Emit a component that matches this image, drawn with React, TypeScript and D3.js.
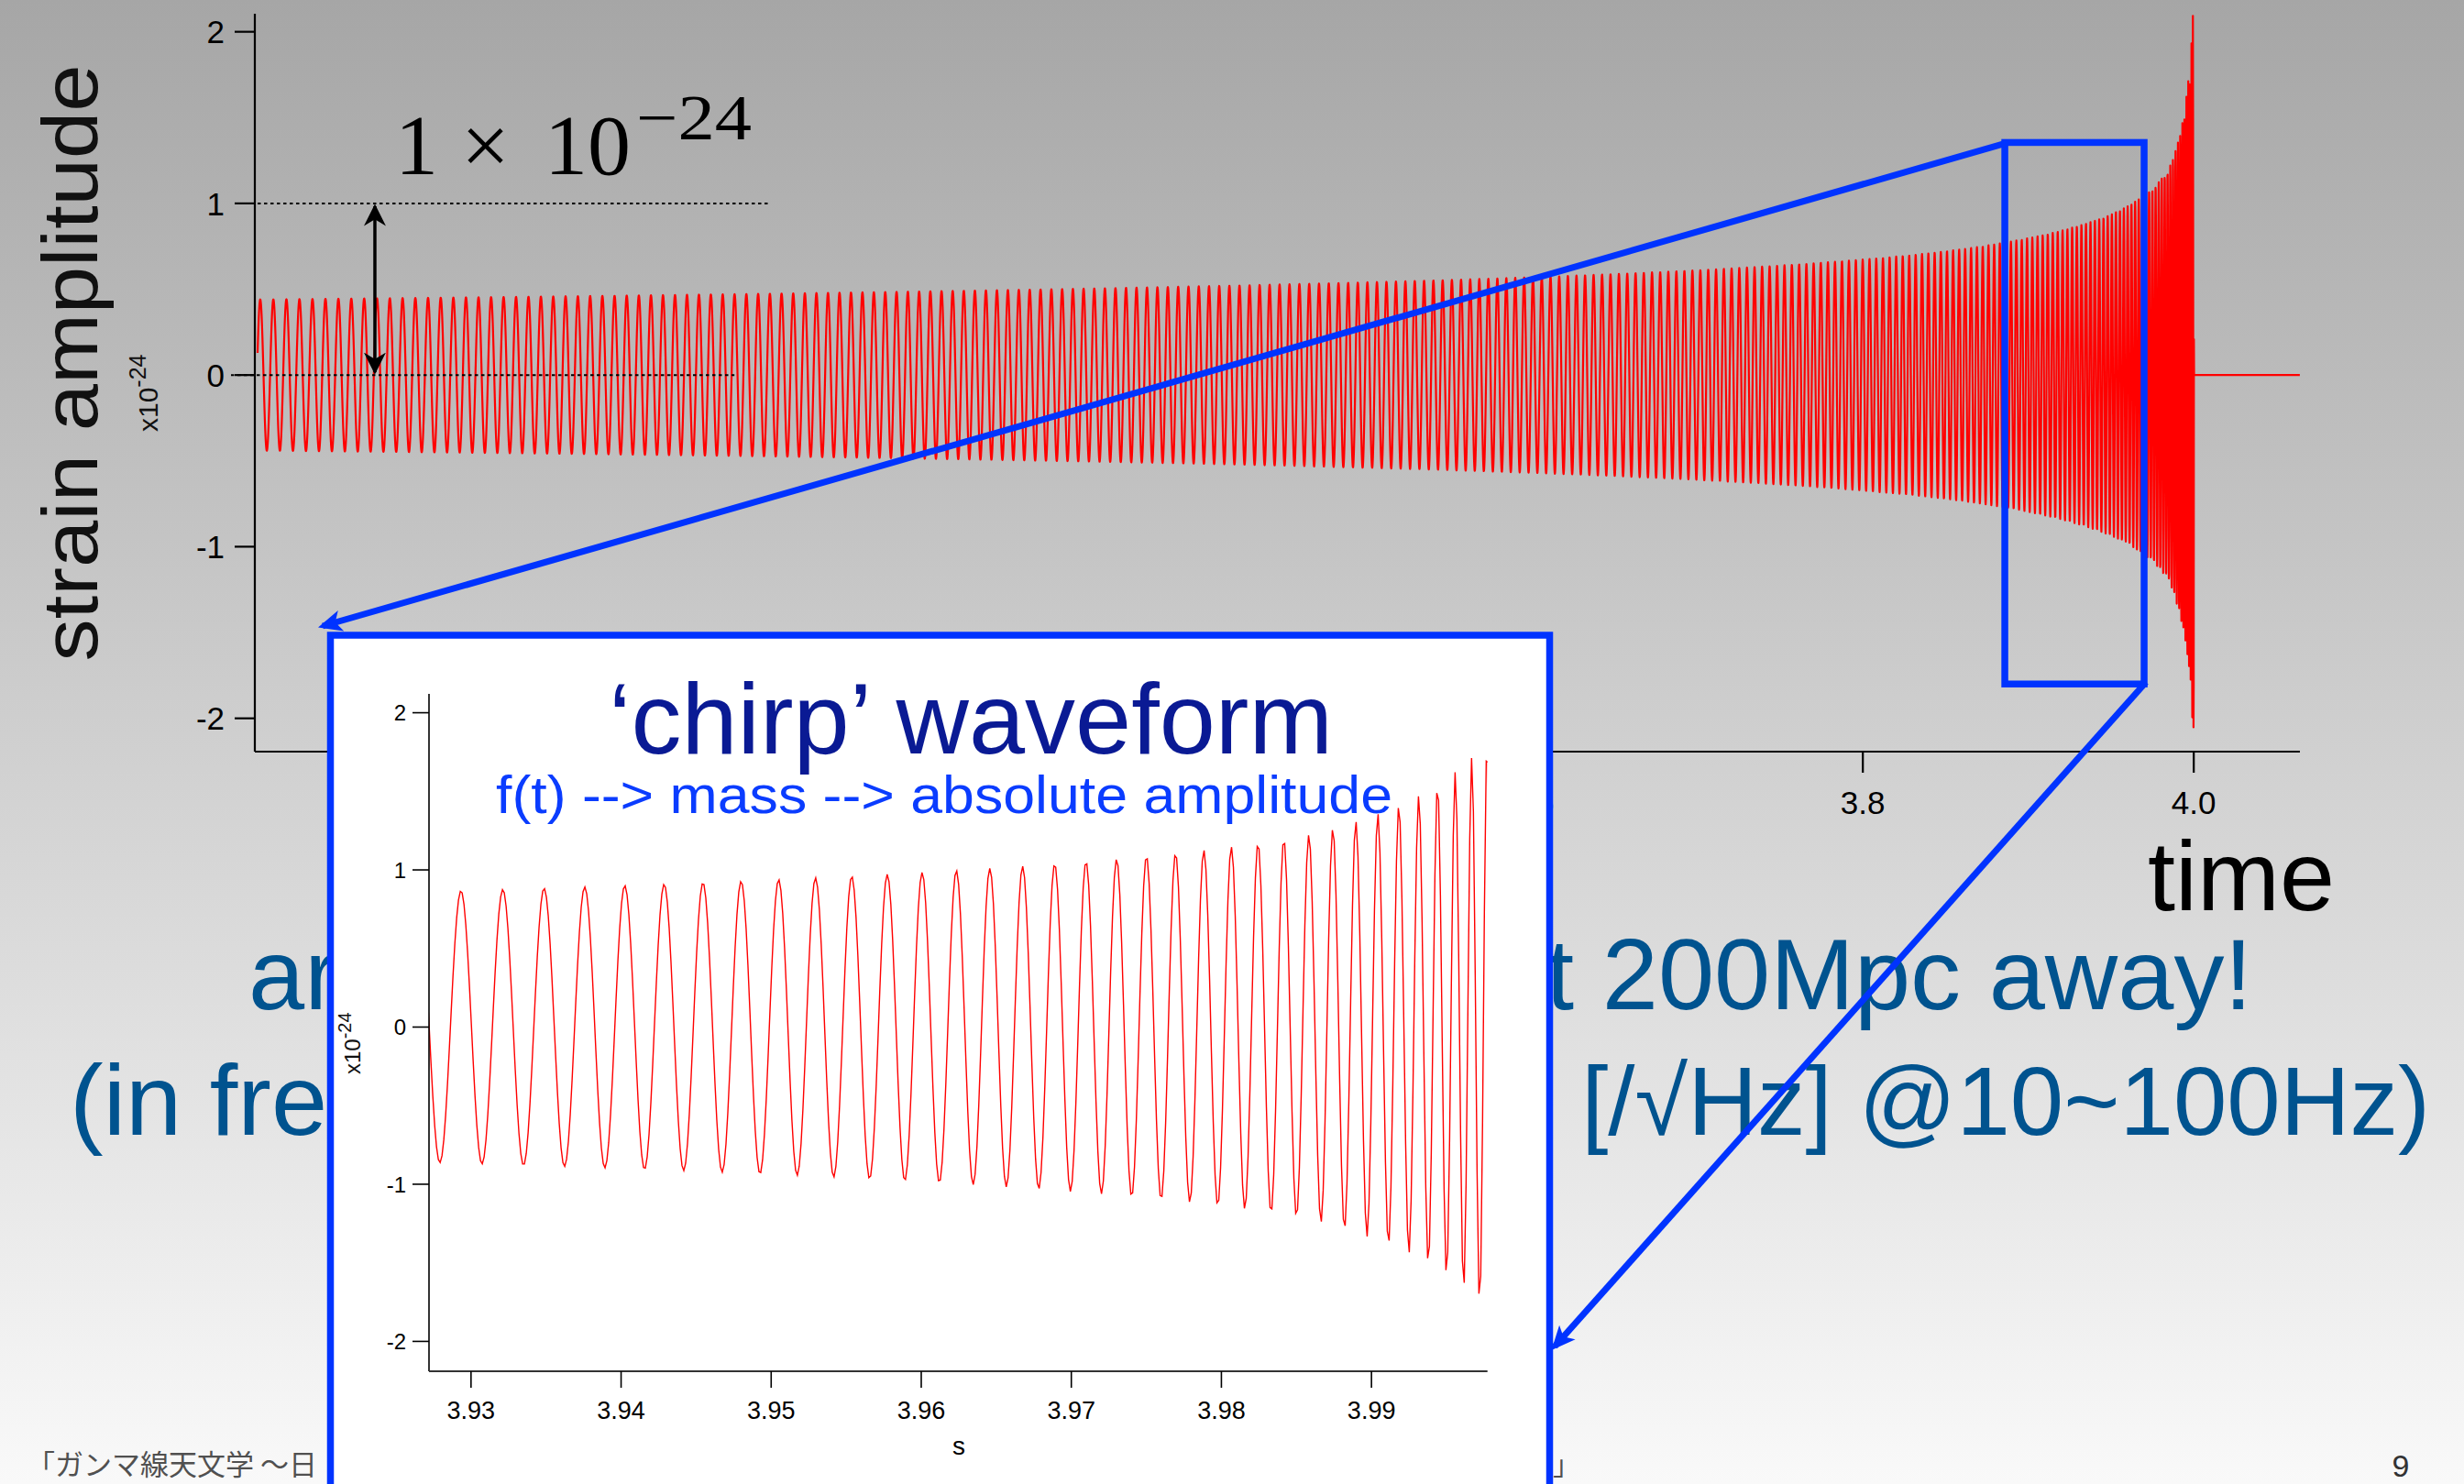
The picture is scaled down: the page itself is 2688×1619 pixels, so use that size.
import React from "react";
import * as d3 from "d3";

const W = 2688;
const H = 1619;

// ---- values ----
// chirp: instantaneous frequency (Hz) and envelope amplitude (x1e-24) at read times (s)
const anchorTimes = [2.83, 3.84, 3.9295, 3.9852, 3.9973, 4.0];
const anchorFreqs = [126, 263, 356.5, 604, 989, 1350];
const anchorAmps = [0.44, 0.71, 0.868, 1.21, 1.78, 2.25];
const tCoalesce = 4.0025;
const tStart = 2.8298;
const tMergerEnd = 4.0002;
const tTail = 4.0641;
const sampleRate = 8192;
const insetZeroCrossing = 3.9272;

const mainXDomain = [2.82814, 4.06416];
const mainYDomain = [-2.194, 2.105];
const mainXTicks = [3.0, 3.2, 3.4, 3.6, 3.8, 4.0];
const mainYTicks = [-2, -1, 0, 1, 2];

const insetXDomain = [3.9272, 3.99773];
const insetYDomain = [-2.19, 2.12];
const insetXTicks = [3.93, 3.94, 3.95, 3.96, 3.97, 3.98, 3.99];
const insetYTicks = [-2, -1, 0, 1, 2];

// annotation (data coords)
const arrowTime = 2.9007;
const dashOneEnd = 3.14;
const dashZeroEnd = 3.118;
const zoomBox = { t0: 3.8858, t1: 3.9700, v0: -1.80, v1: 1.355 };

type Sample = { t: number; v: number };

function buildWaveform(): Sample[] {
  const logTau = anchorTimes.map((t) => Math.log(tCoalesce - t));
  const fScale = d3.scaleLinear().domain(logTau).range(anchorFreqs.map(Math.log));
  const aScale = d3.scaleLinear().domain(logTau).range(anchorAmps.map(Math.log));
  const dt = 1 / sampleRate;
  const ts: number[] = [];
  const phases: number[] = [];
  const amps: number[] = [];
  let phase = 0;
  for (let i = 0; ; i++) {
    const t = tStart + i * dt;
    if (t > tMergerEnd) break;
    const lt = Math.log(tCoalesce - t);
    const f = Math.exp(fScale(lt));
    ts.push(t);
    phases.push(phase);
    amps.push(Math.exp(aScale(lt)));
    phase += 2 * Math.PI * f * dt;
  }
  // align phase so the inset begins on a descending zero crossing
  const k = d3.bisectLeft(ts, insetZeroCrossing);
  const off = Math.PI - phases[k];
  return ts.map((t, i) => ({ t, v: amps[i] * Math.sin(phases[i] + off) }));
}

const fmt = (d: number) => String(d);

export default function App() {
  const wave = React.useMemo(buildWaveform, []);

  const mx = d3.scaleLinear().domain(mainXDomain).range([278, 2509]);
  const my = d3.scaleLinear().domain(mainYDomain).range([820, 15]);
  const ix = d3.scaleLinear().domain(insetXDomain).range([468, 1622.7]);
  const iy = d3.scaleLinear().domain(insetYDomain).range([1496, 757]);

  const insetLeft = 360.5;
  const insetRight = 1690.5;

  const mainData: Sample[] = [...wave, { t: tMergerEnd, v: 0 }, { t: tTail, v: 0 }];
  const mainPath = d3.line<Sample>().x((d) => mx(d.t)).y((d) => my(d.v))(mainData) || "";
  const insetData = wave.filter((d) => d.t >= insetXDomain[0] - 0.0003 && d.t <= insetXDomain[1] + 0.0003);
  const insetPath = d3.line<Sample>().x((d) => ix(d.t)).y((d) => iy(d.v))(insetData) || "";

  const blue = "#0033ff";
  const sans = "'Liberation Sans', Helvetica, Arial, sans-serif";
  const textBlue = "#00538f";

  const zbX0 = mx(zoomBox.t0), zbX1 = mx(zoomBox.t1);
  const zbY0 = my(zoomBox.v1), zbY1 = my(zoomBox.v0);

  // tick labels entirely hidden behind the inset are not drawn
  const visibleMainXLabels = mainXTicks.filter((d) => mx(d) + 30 > insetRight);

  return (
    <svg width={W} height={H} viewBox={`0 0 ${W} ${H}`}
      style={{ position: "absolute", left: 0, top: 0, display: "block" }}
      fontFamily={sans}>
      <defs>
        <linearGradient id="bg" x1="0" y1="0" x2="0" y2="1">
          <stop offset="0" stopColor="#a6a6a6" />
          <stop offset="1" stopColor="#f9f9f9" />
        </linearGradient>
        <marker id="blackHead" viewBox="0 0 10 10" refX="9" refY="5" markerUnits="userSpaceOnUse"
          markerWidth="24" markerHeight="24" orient="auto-start-reverse">
          <path d="M0,0 L10,5 L0,10 L3,5 z" fill="#000" />
        </marker>
        <marker id="blueHead" viewBox="0 0 10 10" refX="8" refY="5" markerUnits="userSpaceOnUse"
          markerWidth="26" markerHeight="26" orient="auto-start-reverse">
          <path d="M0,0.5 L10,5 L0,9.5 L2.5,5 z" fill={blue} />
        </marker>
        <clipPath id="insetClip">
          <rect x={ix.range()[0]} y={700} width={ix.range()[1] - ix.range()[0]} height={iy.range()[0] - 700} />
        </clipPath>
        <clipPath id="leftOfInset">
          <rect x={0} y={0} width={insetLeft} height={H} />
        </clipPath>
      </defs>

      <rect x={0} y={0} width={W} height={H} fill="url(#bg)" />

      {/* bottom blue text (partly hidden by the inset) */}
      <g fill={textBlue} fontSize={110}>
        <g clipPath="url(#leftOfInset)">
          <text x={271} y={1101}>ar</text>
          <text x={76} y={1238}>(in freq</text>
        </g>
        <text x={2457} y={1101} textAnchor="end">at 200Mpc away!</text>
        <text x={2651} y={1238} textAnchor="end" fontSize={105}>~10⁻²³ [/√Hz] @10~100Hz)</text>
      </g>

      {/* footer left (partly hidden behind the inset) */}
      <text x={29} y={1609} fontSize={31} fill="#505050" clipPath="url(#leftOfInset)"
        fontFamily="'Noto Sans CJK JP', sans-serif">「ガンマ線天文学 〜日</text>

      {/* main axes */}
      <g stroke="#000" strokeWidth={2.2} fill="none">
        <line x1={mx.range()[0]} x2={mx.range()[0]} y1={my.range()[1]} y2={my.range()[0]} />
        <line x1={mx.range()[0]} x2={mx.range()[1]} y1={my.range()[0]} y2={my.range()[0]} />
        {mainYTicks.map((d) => (
          <line key={"myt" + d} x1={mx.range()[0] - 22} x2={mx.range()[0]} y1={my(d)} y2={my(d)} />
        ))}
        {mainXTicks.map((d) => (
          <line key={"mxt" + d} x1={mx(d)} x2={mx(d)} y1={my.range()[0]} y2={my.range()[0] + 23} />
        ))}
      </g>
      <g fontSize={35} fill="#000">
        {mainYTicks.map((d) => (
          <text key={"myl" + d} x={245} y={my(d)} dy="0.36em" textAnchor="end">{fmt(d)}</text>
        ))}
        {visibleMainXLabels.map((d) => (
          <text key={"mxl" + d} x={mx(d)} y={888} textAnchor="middle">{d.toFixed(1)}</text>
        ))}
      </g>
      <text transform="translate(106,396) rotate(-90)" textAnchor="middle" fontSize={86}
        textLength={651} lengthAdjust="spacingAndGlyphs" fill="#111">strain amplitude</text>
      <text transform="translate(172,471) rotate(-90)" fontSize={30} fill="#111">
        x10<tspan fontSize={25} dy={-13}>-24</tspan>
      </text>
      <text x={2343} y={993} fontSize={108} fill="#000">time</text>

      {/* main waveform */}
      <path d={mainPath} fill="none" stroke="#ff0000" strokeWidth={2.2} strokeLinejoin="round" />

      {/* annotations */}
      <g stroke="#000" strokeWidth={2} strokeDasharray="3.5,3.5" fill="none">
        <line x1={mx.range()[0] - 4} x2={mx(dashOneEnd)} y1={my(1)} y2={my(1)} />
        <line x1={mx.range()[0] - 26} x2={mx(dashZeroEnd)} y1={my(0)} y2={my(0)} />
      </g>
      <line x1={mx(arrowTime)} x2={mx(arrowTime)} y1={my(1) + 3} y2={my(0) - 3}
        stroke="#000" strokeWidth={3.5} markerStart="url(#blackHead)" markerEnd="url(#blackHead)" />
      <text y={190} fontFamily="'Liberation Serif', 'DejaVu Serif', serif" fontSize={94} fill="#000">
        <tspan x={431}>1</tspan>
        <tspan x={503}>×</tspan>
        <tspan x={594}>10</tspan>
        <tspan x={694} y={152} fontSize={70} textLength={126} lengthAdjust="spacingAndGlyphs">−24</tspan>
      </text>

      {/* zoom box on main chart */}
      <rect x={zbX0} y={zbY0} width={zbX1 - zbX0} height={zbY1 - zbY0}
        fill="none" stroke={blue} strokeWidth={7.5} />

      {/* inset */}
      <rect x={insetLeft} y={693} width={insetRight - insetLeft} height={1000} fill="#fff" stroke={blue} strokeWidth={7.5} />
      <text x={1059} y={822} textAnchor="middle" fontSize={110} fill="#0a1a94"
        textLength={790} lengthAdjust="spacingAndGlyphs">‘chirp’ waveform</text>
      <text x={1030} y={887} textAnchor="middle" fontSize={58} fill="#0a3cff"
        textLength={978} lengthAdjust="spacingAndGlyphs">f(t) --&gt; mass --&gt; absolute amplitude</text>

      <path d={insetPath} fill="none" stroke="#ff0000" strokeWidth={1.4} clipPath="url(#insetClip)" />

      <g stroke="#000" strokeWidth={1.6} fill="none">
        <line x1={ix.range()[0]} x2={ix.range()[0]} y1={iy.range()[1]} y2={iy.range()[0]} />
        <line x1={ix.range()[0]} x2={ix.range()[1]} y1={iy.range()[0]} y2={iy.range()[0]} stroke="#333" strokeWidth={2} />
        {insetYTicks.map((d) => (
          <line key={"iyt" + d} x1={ix.range()[0] - 18} x2={ix.range()[0]} y1={iy(d)} y2={iy(d)} />
        ))}
        {insetXTicks.map((d) => (
          <line key={"ixt" + d} x1={ix(d)} x2={ix(d)} y1={iy.range()[0]} y2={iy.range()[0] + 18} />
        ))}
      </g>
      <g fill="#000">
        {insetYTicks.map((d) => (
          <text key={"iyl" + d} x={443} y={iy(d)} dy="0.36em" textAnchor="end" fontSize={24}>{fmt(d)}</text>
        ))}
        {insetXTicks.map((d) => (
          <text key={"ixl" + d} x={ix(d)} y={1548} textAnchor="middle" fontSize={27}>{d.toFixed(2)}</text>
        ))}
        <text x={1046} y={1587} textAnchor="middle" fontSize={28}>s</text>
      </g>
      <text transform="translate(393,1172) rotate(-90)" fontSize={24} fill="#111">
        x10<tspan fontSize={20} dy={-10}>-24</tspan>
      </text>

      {/* callout arrows */}
      <g stroke={blue} strokeWidth={7} fill="none">
        <line x1={zbX0 + 4} y1={zbY0} x2={352} y2={683} markerEnd="url(#blueHead)" />
        <line x1={zbX1 + 2} y1={zbY1 - 2} x2={1696} y2={1469} markerEnd="url(#blueHead)" />
      </g>

      {/* footer */}
      <text x={1694} y={1609} fontSize={30} fill="#505050"
        fontFamily="'Noto Sans CJK JP', sans-serif">」</text>
      <text x={2619} y={1611} textAnchor="middle" fontSize={34} fill="#333">9</text>
    </svg>
  );
}
